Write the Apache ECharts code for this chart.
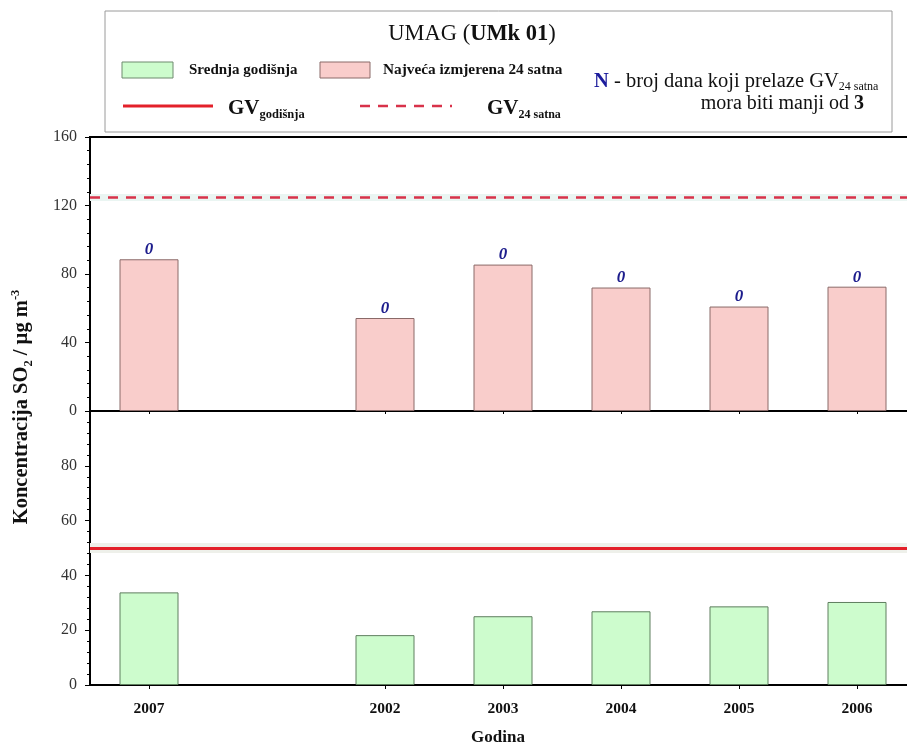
<!DOCTYPE html>
<html>
<head>
<meta charset="utf-8">
<script src="https://cdn.jsdelivr.net/npm/echarts@6/dist/echarts.min.js"></script>
<style>html,body{margin:0;padding:0;background:#fff;overflow:hidden}#c{width:920px;height:749px}</style>
</head>
<body>
<div id="c"></div>
<script>
// ---- data ----
const categories = ['2007', '', '2002', '2003', '2004', '2005', '2006'];
const maxDaily = [88.6, null, 54.3, 85.5, 72.1, 61.0, 72.6];      // Najveća izmjerena 24 satna
const annualMean = [33.8, null, 18.2, 25.1, 26.9, 28.7, 30.3];    // Srednja godišnja
const exceedDays = [0, null, 0, 0, 0, 0, 0];                      // N
const gvAnnual = 50;
const gv24h = 125;
const topAxis = { min: 0, max: 160, interval: 40 };
const bottomAxis = { min: 0, max: 100, interval: 20 };

const SERIF = '"Liberation Serif", "Times New Roman", serif';
const chart = echarts.init(document.getElementById('c'), null, { renderer: 'canvas' });

const yAxisBase = {
  type: 'value',
  axisLine: { show: true, lineStyle: { color: '#000', width: 2 } },
  axisTick: { show: true, length: 5, lineStyle: { color: '#000', width: 1 } },
  minorTick: { show: true, splitNumber: 5, length: 3, lineStyle: { color: '#000', width: 1 } },
  splitLine: { show: false },
  axisLabel: { fontFamily: SERIF, fontSize: 16, color: '#333', margin: 13 }
};
const tickFilter = (i, v) => v !== '';

const option = {
  animation: false,
  backgroundColor: '#fff',
  grid: [
    { left: 90, top: 137, width: 826, height: 274, show: true, borderColor: '#000', borderWidth: 2, backgroundColor: 'transparent' },
    { left: 90, top: 411, width: 826, height: 274 }
  ],
  xAxis: [
    { gridIndex: 0, type: 'category', data: categories,
      axisLine: { lineStyle: { color: '#000', width: 2 } },
      axisTick: { show: true, alignWithLabel: true, length: 3, interval: tickFilter, lineStyle: { color: '#000' } },
      axisLabel: { show: false } },
    { gridIndex: 1, type: 'category', data: categories,
      axisLine: { lineStyle: { color: '#000', width: 2 } },
      axisTick: { show: true, alignWithLabel: true, length: 4, interval: tickFilter, lineStyle: { color: '#000' } },
      axisLabel: { interval: 0, fontFamily: SERIF, fontSize: 15.5, fontWeight: 'bold', color: '#111', margin: 16 } }
  ],
  yAxis: [
    Object.assign({}, yAxisBase, { gridIndex: 0 }, topAxis),
    Object.assign({}, yAxisBase, { gridIndex: 1, axisLabel: Object.assign({}, yAxisBase.axisLabel, { showMaxLabel: false }) }, bottomAxis)
  ],
  series: [
    {
      name: 'Najveća izmjerena 24 satna', type: 'bar', xAxisIndex: 0, yAxisIndex: 0,
      data: maxDaily, barWidth: '50%',
      itemStyle: { color: '#f9cdcb', borderColor: '#8a6a68', borderWidth: 1 },
      label: {
        show: true, position: 'top', distance: 1,
        formatter: p => exceedDays[p.dataIndex] == null ? '' : String(exceedDays[p.dataIndex]),
        fontFamily: SERIF, fontSize: 17, fontWeight: 'bold', fontStyle: 'italic', color: '#1c1c8c'
      },
      markLine: {
        silent: true, symbol: 'none', label: { show: false },
        data: [
          { yAxis: gv24h, lineStyle: { color: '#eaf5f2', width: 7, type: 'solid' } },
          { yAxis: gv24h, lineStyle: { color: '#d8324a', width: 2.5, type: [10, 8] } }
        ]
      }
    },
    {
      name: 'Srednja godišnja', type: 'bar', xAxisIndex: 1, yAxisIndex: 1,
      data: annualMean, barWidth: '50%',
      itemStyle: { color: '#cdfccd', borderColor: '#5e7e5e', borderWidth: 1 },
      markLine: {
        silent: true, symbol: 'none', label: { show: false },
        data: [
          { yAxis: gvAnnual, lineStyle: { color: '#eef0ea', width: 10, type: 'solid' } },
          { yAxis: gvAnnual, lineStyle: { color: '#e3202a', width: 3, type: 'solid' } }
        ]
      }
    }
  ],
  graphic: [
    { type: 'rect', shape: { x: 105, y: 11, width: 787, height: 121 },
      style: { fill: '#fff', stroke: '#9a9a9a', lineWidth: 1 }, z: 0 },
    { type: 'text', x: 472, y: 34, style: {
        text: '{r|UMAG (}{b|UMk 01}{r|)}', align: 'center', verticalAlign: 'middle',
        rich: { r: { fontFamily: SERIF, fontSize: 22.5, fill: '#111' }, b: { fontFamily: SERIF, fontSize: 22.5, fontWeight: 'bold', fill: '#111' } } } },
    // row 1
    { type: 'rect', shape: { x: 122, y: 62, width: 51, height: 16 }, style: { fill: '#cdfccd', stroke: '#6e8a6e', lineWidth: 1 } },
    { type: 'text', x: 189, y: 70, style: { text: 'Srednja godišnja', fontFamily: SERIF, fontSize: 15, fontWeight: 'bold', fill: '#111', align: 'left', verticalAlign: 'middle' } },
    { type: 'rect', shape: { x: 320, y: 62, width: 50, height: 16 }, style: { fill: '#f9cdcb', stroke: '#8a6a68', lineWidth: 1 } },
    { type: 'text', x: 383, y: 70, style: { text: 'Najveća izmjerena 24 satna', fontFamily: SERIF, fontSize: 15.3, fontWeight: 'bold', fill: '#111', align: 'left', verticalAlign: 'middle' } },
    // row 2
    { type: 'line', shape: { x1: 123, y1: 106, x2: 213, y2: 106 }, style: { stroke: '#e3202a', lineWidth: 3 } },
    { type: 'text', x: 228, y: 109, style: {
        text: '{g|GV}{s|godišnja}', align: 'left', verticalAlign: 'middle',
        rich: { g: { fontFamily: SERIF, fontSize: 21, fontWeight: 'bold', fill: '#111', lineHeight: 24, verticalAlign: 'middle' },
                s: { fontFamily: SERIF, fontSize: 12.5, fontWeight: 'bold', fill: '#111', lineHeight: 12, verticalAlign: 'bottom' } } } },
    { type: 'line', shape: { x1: 360, y1: 106, x2: 452, y2: 106 }, style: { stroke: '#d8324a', lineWidth: 2.5, lineDash: [10, 8] } },
    { type: 'text', x: 487, y: 109, style: {
        text: '{g|GV}{s|24 satna}', align: 'left', verticalAlign: 'middle',
        rich: { g: { fontFamily: SERIF, fontSize: 21, fontWeight: 'bold', fill: '#111', lineHeight: 24, verticalAlign: 'middle' },
                s: { fontFamily: SERIF, fontSize: 12, fontWeight: 'bold', fill: '#111', lineHeight: 12, verticalAlign: 'bottom' } } } },
    // N note
    { type: 'text', x: 594, y: 82, style: {
        text: '{n|N}{r| - broj dana koji prelaze GV}{s|24 satna}', align: 'left', verticalAlign: 'middle',
        rich: { n: { fontFamily: SERIF, fontSize: 20.5, fontWeight: 'bold', fill: '#1c1c9c', lineHeight: 22, verticalAlign: 'middle' },
                r: { fontFamily: SERIF, fontSize: 20.5, fill: '#111', lineHeight: 22, verticalAlign: 'middle' },
                s: { fontFamily: SERIF, fontSize: 12, fill: '#111', lineHeight: 11, verticalAlign: 'bottom' } } } },
    { type: 'text', x: 864, y: 104, style: {
        text: '{r|mora biti manji od }{b|3}', align: 'right', verticalAlign: 'middle',
        rich: { r: { fontFamily: SERIF, fontSize: 20, fill: '#111' }, b: { fontFamily: SERIF, fontSize: 20, fontWeight: 'bold', fill: '#111' } } } },
    // axis titles
    { type: 'text', x: 22, y: 407, rotation: Math.PI / 2, style: {
        text: '{b|Koncentracija SO}{sub|2}{b| / µg m}{sup|-3}', align: 'center', verticalAlign: 'middle',
        rich: { b: { fontFamily: SERIF, fontSize: 20.5, fontWeight: 'bold', fill: '#111', lineHeight: 26, verticalAlign: 'middle' },
                sub: { fontFamily: SERIF, fontSize: 12.5, fontWeight: 'bold', fill: '#111', lineHeight: 12, verticalAlign: 'bottom' },
                sup: { fontFamily: SERIF, fontSize: 12.5, fontWeight: 'bold', fill: '#111', lineHeight: 12, verticalAlign: 'top' } } } },
    { type: 'text', x: 498, y: 738, style: { text: 'Godina', fontFamily: SERIF, fontSize: 17, fontWeight: 'bold', fill: '#111', align: 'center', verticalAlign: 'middle' } }
  ]
};
chart.setOption(option);
</script>
</body>
</html>
